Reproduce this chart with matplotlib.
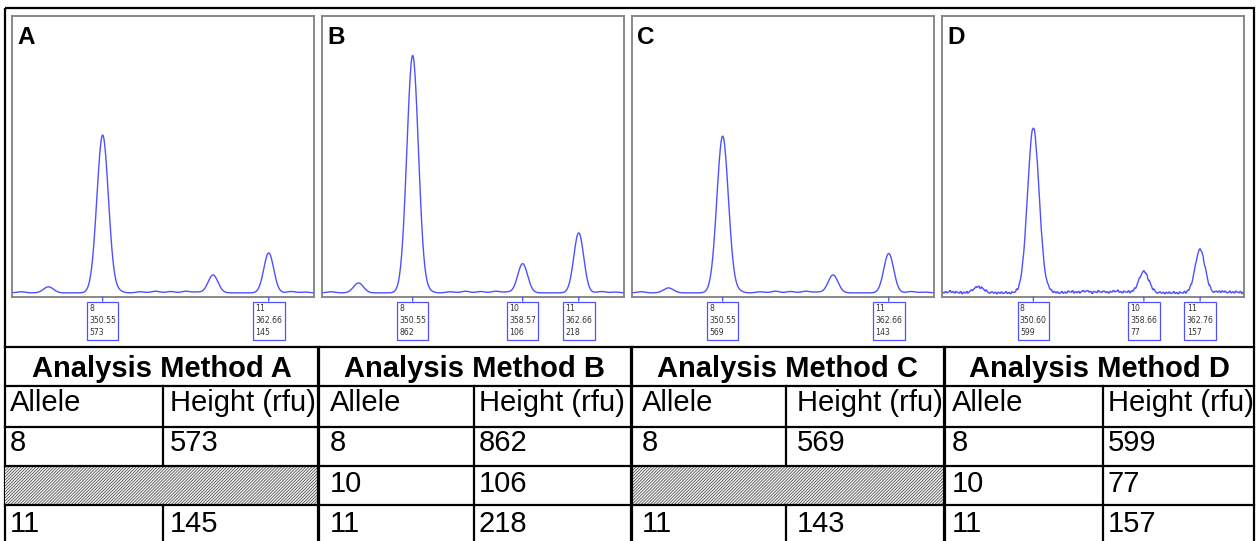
import numpy as np
import matplotlib
matplotlib.use("Agg")
import matplotlib.pyplot as plt
from matplotlib.patches import Rectangle
from matplotlib.lines import Line2D

plt.rcParams['font.family'] = ['Liberation Sans', 'DejaVu Sans']
plt.rcParams['hatch.linewidth'] = 0.5

# ---------------- data ----------------
methods = ['A', 'B', 'C', 'D']
table_alleles = ['8', '10', '11']

# called (labelled) peaks per analysis method
alleles_A = ['8', '11'];       sizes_A = [350.55, 362.66];         heights_A = [573, 145]
alleles_B = ['8', '10', '11']; sizes_B = [350.55, 358.57, 362.66]; heights_B = [862, 106, 218]
alleles_C = ['8', '11'];       sizes_C = [350.55, 362.66];         heights_C = [569, 143]
alleles_D = ['8', '10', '11']; sizes_D = [350.60, 358.66, 362.76]; heights_D = [599, 77, 157]

# uncalled peaks visible in the trace (bp, rfu)
extra_bp_A = [346.6, 358.6];  extra_h_A = [22, 65]
extra_bp_B = [346.6];         extra_h_B = [36]
extra_bp_C = [346.6, 358.6];  extra_h_C = [18, 65]
extra_bp_D = [346.6];         extra_h_D = [22]

# small baseline undulations (bp, rfu)
wiggle_bp = [344.6, 351.7, 353.3, 354.4, 355.5, 356.6, 357.4, 364.3, 365.3]
wiggle_h = [4, 6, 4, 6, 5, 6, 3, 5, 3]

# baseline noise of method D (rfu)
noise_D = [2, -1, 3, -2, 0, 4, -2, 1, -3, 3, 0, -1, 4, -3, 2, -1, 3, -3, 1, 3,
           -2, 0, 3, -1, 2, -4, 3, 1, -2, 4, -1, -3, 1, 3, -1, 2, -3]

# ---------------- layout ----------------
W, H = 1259, 541
fig = plt.figure(figsize=(W / 100, H / 100), dpi=100)

def rect(x0, y0, x1, y1):
    return [x0 / W, 1 - y1 / H, (x1 - x0) / W, (y1 - y0) / H]

blue = '#5050ff'
xlim = (343.94, 365.96)
ylim = (-15, 1005)
grid = np.linspace(xlim[0], xlim[1], 600)

def gauss_sum(x, pos, hts, sig):
    y = np.zeros_like(x)
    for p, h in zip(pos, hts):
        y += h * np.exp(-0.5 * ((x - p) / sig) ** 2)
    return y

panels = [
    (alleles_A, sizes_A, heights_A, extra_bp_A, extra_h_A, None),
    (alleles_B, sizes_B, heights_B, extra_bp_B, extra_h_B, None),
    (alleles_C, sizes_C, heights_C, extra_bp_C, extra_h_C, None),
    (alleles_D, sizes_D, heights_D, extra_bp_D, extra_h_D, noise_D),
]
lefts = [12, 322, 632, 942]

for name, left, (al, sz, ht, ebp, eh, noise) in zip(methods, lefts, panels):
    ax = fig.add_axes(rect(left, 16, left + 302, 297))
    y = gauss_sum(grid, sz[:1], ht[:1], 0.42)
    y += gauss_sum(grid, sz[1:], ht[1:], 0.36)
    y += gauss_sum(grid, ebp, eh, 0.36)
    y += gauss_sum(grid, wiggle_bp, wiggle_h, 0.3)
    if noise is not None:
        y += np.resize(np.repeat(np.array(noise, float), 3), grid.size)
    ax.plot(grid, y, color=blue, lw=1.0)
    ax.set_xlim(*xlim)
    ax.set_ylim(*ylim)
    ax.set_xticks([]); ax.set_yticks([])
    for s in ax.spines.values():
        s.set_color('#808080'); s.set_linewidth(1.3)
    ax.text(5 / 302, 1 - 28 / 281, name, transform=ax.transAxes, fontsize=17.5,
            fontweight='bold', ha='left', va='baseline', color='black')
    for a, s_, h in zip(al, sz, ht):
        ax.annotate(f"{a}\n{s_:.2f}\n{h}", xy=(s_, 0), xycoords=('data', 'axes fraction'),
                    xytext=(0, -7), textcoords='offset pixels', ha='center', va='top',
                    multialignment='left', fontsize=5.6, family='DejaVu Sans',
                    color='#333333', linespacing=1.45,
                    bbox=dict(boxstyle='square,pad=0.3', fc='white', ec=blue, lw=0.9),
                    arrowprops=dict(arrowstyle='-', color=blue, lw=0.9, shrinkA=0, shrinkB=0),
                    annotation_clip=False)

# ---------------- table ----------------
tax = fig.add_axes([0, 0, 1, 1])
tax.set_xlim(0, W); tax.set_ylim(H, 0); tax.axis('off')

group_x = [5, 318, 631, 944, 1254]
inner_x = [163, 474, 786, 1103]
row_y = [347, 386, 427, 466, 505, 541]
text_x = [(10, 170), (330, 479), (642, 797), (952, 1108)]
base_y = [377, 411, 451, 492, 532]

called = [alleles_A, alleles_B, alleles_C, alleles_D]
called_h = [heights_A, heights_B, heights_C, heights_D]
fs = 21

# outer border
tax.add_patch(Rectangle((5, 8), 1249, 540, fill=False, ec='black', lw=1.6))
for yy in row_y[:-1]:
    tax.add_line(Line2D([5, 1254], [yy, yy], color='black', lw=1.6))

for gi in range(4):
    x0, x1 = group_x[gi], group_x[gi + 1]
    tax.text((x0 + x1) / 2, base_y[0], f"Analysis Method {methods[gi]}", fontsize=fs,
             fontweight='bold', ha='center', va='baseline')
    tax.text(text_x[gi][0], base_y[1], 'Allele', fontsize=fs, ha='left', va='baseline')
    tax.text(text_x[gi][1], base_y[1], 'Height (rfu)', fontsize=fs, ha='left', va='baseline')
    tax.add_line(Line2D([inner_x[gi]] * 2, [row_y[1], row_y[2]], color='black', lw=1.6))
    for ri, allele in enumerate(table_alleles):
        r0, r1 = row_y[2 + ri], row_y[3 + ri]
        if allele in called[gi]:
            h = called_h[gi][called[gi].index(allele)]
            tax.text(text_x[gi][0], base_y[2 + ri], allele, fontsize=fs, ha='left', va='baseline')
            tax.text(text_x[gi][1], base_y[2 + ri], str(h), fontsize=fs, ha='left', va='baseline')
            tax.add_line(Line2D([inner_x[gi]] * 2, [r0, r1], color='black', lw=1.6))
        else:
            tax.add_patch(Rectangle((x0, r0), x1 - x0, r1 - r0, fc='#f0f0f0', ec='#404040',
                                    lw=0, hatch='/' * 11))

for gx in group_x[1:-1]:
    tax.add_line(Line2D([gx, gx], [row_y[0], H], color='black', lw=2.3))

fig.savefig('out.png', dpi=100)
